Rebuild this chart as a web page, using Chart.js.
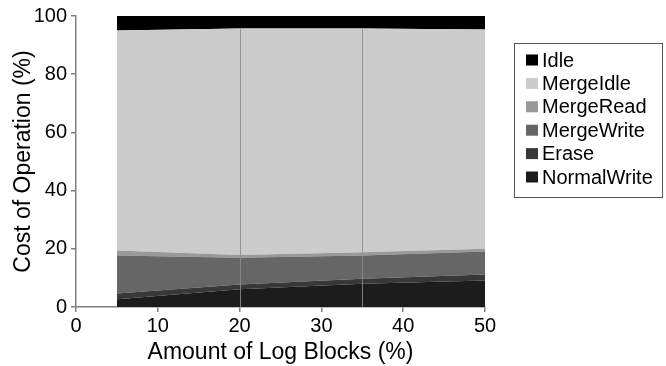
<!DOCTYPE html>
<html>
<head>
<meta charset="utf-8">
<script src="https://cdn.jsdelivr.net/npm/chart.js@4/dist/chart.umd.min.js"></script>
<style>
  html, body { margin: 0; padding: 0; background: #fff; }
  #wrap { width: 666px; height: 366px; }
</style>
</head>
<body>
<div id="wrap"><canvas id="c" width="666" height="366"></canvas></div>
<script>
// Amount of log blocks (%)
const logBlocks = [5, 20, 35, 50];

// Share of each operation in total cost (%), bottom to top of the stack
const normalWrite = [2.7, 6.1, 8.0, 9.1];
const erase       = [1.9, 1.6, 1.7, 2.1];
const mergeWrite  = [13.1, 9.2, 8.0, 7.9];
const mergeRead   = [1.7, 1.0, 1.1, 0.9];
const mergeIdle   = [75.6, 77.8, 76.9, 75.4];
const idle        = [5.0, 4.3, 4.3, 4.6];

const seriesNames  = ['NormalWrite', 'Erase', 'MergeWrite', 'MergeRead', 'MergeIdle', 'Idle'];
const seriesValues = [normalWrite, erase, mergeWrite, mergeRead, mergeIdle, idle];
const seriesColors = ['#1c1c1c', '#383838', '#666666', '#999999', '#cccccc', '#000000'];

const xTicks = [0, 10, 20, 30, 40, 50];
const yTicks = [0, 20, 40, 60, 80, 100];

const FONT = "'Liberation Sans', Arial, sans-serif";

const datasets = seriesNames.map((name, i) => ({
  label: name,
  data: logBlocks.map((x, j) => ({ x: x, y: seriesValues[i][j] })),
  backgroundColor: seriesColors[i],
  borderColor: seriesColors[i],
  borderWidth: 0,
  pointRadius: 0,
  tension: 0,
  fill: i === 0 ? 'origin' : '-1'
}));

// thin vertical seams at the interior sample points
const seamPlugin = {
  id: 'seams',
  afterDatasetsDraw(chart) {
    const ctx = chart.ctx, xs = chart.scales.x, ys = chart.scales.y;
    ctx.save();
    ctx.strokeStyle = 'rgba(140,140,140,0.85)';
    ctx.lineWidth = 1;
    for (let j = 1; j < logBlocks.length - 1; j++) {
      let top = 0;
      for (let i = 0; i < seriesValues.length - 1; i++) top += seriesValues[i][j];
      const px = Math.round(xs.getPixelForValue(logBlocks[j])) + 0.5;
      ctx.beginPath();
      ctx.moveTo(px, ys.getPixelForValue(0));
      ctx.lineTo(px, ys.getPixelForValue(top));
      ctx.stroke();
    }
    ctx.restore();
  }
};

// boxed legend on the right, top series listed first
const boxLegendPlugin = {
  id: 'boxLegend',
  afterDraw(chart) {
    const ctx = chart.ctx;
    const left = 514.5, top = 43.5, w = 148, h = 154;
    ctx.save();
    ctx.strokeStyle = '#555';
    ctx.lineWidth = 1;
    ctx.strokeRect(left, top, w, h);
    ctx.font = '20px ' + FONT;
    ctx.textBaseline = 'middle';
    const n = seriesNames.length;
    for (let k = 0; k < n; k++) {
      const i = n - 1 - k;
      const cy = 60 + k * 23.4;
      ctx.fillStyle = seriesColors[i];
      ctx.fillRect(526, cy - 5.5, 12, 11);
      ctx.fillStyle = '#000';
      ctx.fillText(seriesNames[i], 542, cy + 1);
    }
    ctx.restore();
  }
};

new Chart(document.getElementById('c'), {
  type: 'line',
  data: { datasets: datasets },
  options: {
    responsive: false,
    animation: false,
    layout: { padding: { top: 12.5, right: 181, left: 10, bottom: 0 } },
    plugins: { legend: { display: false }, tooltip: { enabled: false } },
    scales: {
      x: {
        type: 'linear',
        min: 0, max: 50,
        afterBuildTicks(scale) { scale.ticks = xTicks.map(v => ({ value: v })); },
        afterFit(scale) { scale.height = 59; },
        ticks: { color: '#000', font: { family: FONT, size: 20 }, padding: 2 },
        grid: { display: true, drawOnChartArea: false, drawTicks: true, tickLength: 5, color: '#808080', lineWidth: 1.5 },
        border: { display: true, color: '#808080', width: 1.5 },
        title: { display: true, text: 'Amount of Log Blocks (%)', color: '#000', font: { family: FONT, size: 23 }, padding: { top: 0, bottom: 0 } }
      },
      y: {
        type: 'linear',
        stacked: true,
        min: 0, max: 100,
        afterBuildTicks(scale) { scale.ticks = yTicks.map(v => ({ value: v })); },
        afterFit(scale) { scale.width = 66; },
        ticks: { color: '#000', font: { family: FONT, size: 20 }, padding: 4 },
        grid: { display: true, drawOnChartArea: false, drawTicks: true, tickLength: 5, color: '#808080', lineWidth: 1.5 },
        border: { display: true, color: '#808080', width: 1.5 },
        title: { display: true, text: 'Cost of Operation (%)', color: '#000', font: { family: FONT, size: 23 }, padding: { top: 0, bottom: 0 } }
      }
    }
  },
  plugins: [seamPlugin, boxLegendPlugin]
});
</script>
</body>
</html>
